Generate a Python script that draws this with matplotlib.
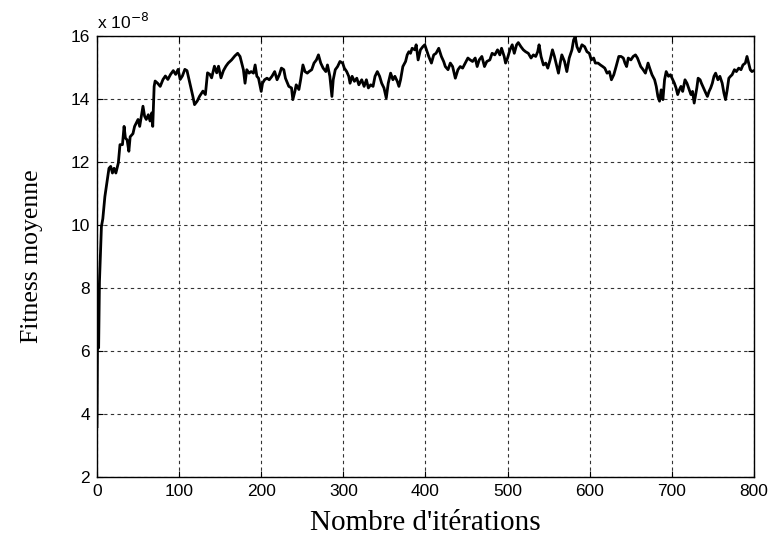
import numpy as np
import matplotlib.pyplot as plt
from matplotlib.ticker import FuncFormatter

# mean fitness per iteration (units of 1e-8)
iterations = [
    0, 1, 2, 3, 4.2, 5.4, 7.1, 9.6, 12.5, 14.6, 16.7, 18.8, 20.8, 23, 26, 28, 31, 33, 34.6, 36.7,
    38.8, 40.4, 43.8, 45.8, 47.9, 50, 52, 54, 56, 58, 60, 62.5, 64.6, 66.7, 67.9, 69.6, 70.8, 73.8, 77, 80.4,
    83.3, 86.3, 89.6, 92.9, 95.8, 98.8, 101.3, 104, 107, 109.6, 112.5, 116.7, 118.8, 122, 125, 129, 132, 134.6, 137.5, 139.6,
    143, 145.8, 148, 151, 154, 157, 159.8, 163.9, 168, 171.3, 174.2, 176.2, 178.3, 180.3, 182.4, 185.2, 187.7, 190.6, 192.6, 194.7,
    196.7, 200, 201.6, 204.1, 207, 209.8, 213.1, 216.4, 219.3, 222.1, 224.6, 227.5, 229.5, 233.6, 236.9, 238.5, 241, 242.6, 245.9, 248,
    250.8, 253.3, 256.1, 258.2, 261.5, 264.3, 267.2, 269.7, 272.5, 275.4, 278.7, 280.7, 283.6, 286.1, 287.7, 290.2, 293, 295.9, 299.2, 301.2,
    304.1, 306.6, 308.2, 310.7, 313.5, 316.4, 318.9, 322.4, 325.3, 328.1, 330.5, 333.3, 336.2, 338.6, 341.4, 344.2, 346.7, 349.5, 352.3, 354.7,
    357.6, 360.4, 362.8, 365.7, 367.7, 369.7, 372.5, 375.8, 377.8, 379.8, 381.8, 383.8, 387.1, 388.7, 391.1, 393.9, 396.8, 399.2, 402, 404,
    407.3, 410.1, 412.9, 416.2, 419.4, 422.2, 424.2, 427.5, 430.3, 433.1, 436.4, 439.6, 442.4, 445.3, 448.5, 451.7, 454.5, 457.4, 460.6, 463,
    465.5, 468.7, 471.9, 474.7, 478.4, 481.2, 484.5, 487.8, 490.6, 492.7, 495.9, 497.6, 500, 502.9, 505.7, 508.2, 511, 513.1, 516.3, 519.2,
    522, 525.3, 528.6, 531.4, 534.3, 536.7, 538.4, 540.8, 543.7, 546.5, 549, 551.8, 554.7, 557.1, 560, 562, 564.1, 566.1, 569.4, 572.2,
    575.1, 578.4, 580.4, 582.4, 584.5, 587.3, 590.6, 593.9, 596.7, 599.6, 602, 604.9, 606.9, 610.2, 613.1, 615.9, 618.4, 621.2, 624.1, 626.5,
    629.4, 632.2, 635.5, 638.2, 641, 643, 645, 647, 650.2, 653, 655.8, 658.2, 659.8, 662.2, 665.1, 667.9, 671.1, 673.1, 675.9, 679.1,
    681.1, 683.1, 685.1, 687.1, 689.2, 691.2, 693.2, 696, 698.4, 701.2, 703.2, 705.2, 707.2, 709.2, 711.2, 713.3, 716.1, 718.5, 721.3, 723.3,
    725.3, 727.3, 730.5, 732.1, 734.5, 736.1, 738.6, 741.4, 743.4, 745.4, 747.4, 749.4, 751.4, 753.4, 756.2, 758.6, 761.4, 763.5, 765.5, 767.5,
    769.5, 771.5, 773.5, 776.3, 778.7, 781.5, 784.3, 786.7, 789.6, 791.6, 793.6, 795.6, 797.6, 800,
]
fitness = [
    3.6, 8.1, 6.1, 8.2, 9.1, 9.95, 10.2, 10.9, 11.43, 11.8, 11.86, 11.65, 11.8, 11.65, 11.97, 12.55, 12.55, 13.13, 12.76, 12.7,
    12.34, 12.8, 12.9, 13.13, 13.24, 13.35, 13.13, 13.45, 13.77, 13.45, 13.35, 13.5, 13.3, 13.56, 13.13, 14.4, 14.57, 14.5, 14.4, 14.62,
    14.73, 14.62, 14.78, 14.9, 14.78, 14.94, 14.62, 14.73, 14.94, 14.9, 14.57, 14.09, 13.82, 13.93, 14.09, 14.25, 14.14, 14.83, 14.78, 14.67,
    15.04, 14.83, 15.04, 14.67, 14.9, 15.04, 15.14, 15.24, 15.37, 15.45, 15.35, 15.14, 14.93, 14.5, 14.93, 14.82, 14.87, 14.82, 15.08, 14.72,
    14.66, 14.24, 14.5, 14.61, 14.66, 14.61, 14.72, 14.87, 14.61, 14.77, 14.98, 14.93, 14.66, 14.4, 14.35, 13.98, 14.24, 14.45, 14.3, 14.61,
    15.08, 14.87, 14.82, 14.87, 14.93, 15.14, 15.24, 15.4, 15.14, 14.98, 14.87, 15.08, 14.72, 14.08, 14.61, 14.93, 15.03, 15.19, 15.14, 14.98,
    14.87, 14.72, 14.5, 14.72, 14.56, 14.66, 14.45, 14.61, 14.4, 14.61, 14.35, 14.45, 14.4, 14.72, 14.87, 14.72, 14.5, 14.35, 14.03, 14.5,
    14.82, 14.61, 14.72, 14.56, 14.4, 14.61, 15.03, 15.19, 15.4, 15.5, 15.45, 15.61, 15.56, 15.72, 15.24, 15.56, 15.66, 15.72, 15.5, 15.35,
    15.14, 15.4, 15.45, 15.61, 15.35, 15.19, 15.03, 14.93, 15.14, 15.03, 14.66, 14.93, 15.03, 14.98, 15.14, 15.3, 15.24, 15.19, 15.3, 15.03,
    15.24, 15.35, 15.03, 15.19, 15.24, 15.45, 15.4, 15.56, 15.4, 15.61, 15.35, 15.14, 15.3, 15.56, 15.72, 15.45, 15.72, 15.79, 15.66, 15.56,
    15.5, 15.45, 15.3, 15.4, 15.35, 15.5, 15.72, 15.35, 15.08, 15.14, 14.98, 15.24, 15.56, 15.35, 15.03, 14.82, 15.14, 15.4, 15.19, 14.87,
    15.3, 15.56, 15.87, 15.98, 15.66, 15.5, 15.72, 15.66, 15.5, 15.45, 15.24, 15.3, 15.14, 15.14, 15.08, 15.03, 14.98, 14.82, 14.87, 14.61,
    14.77, 15.03, 15.35, 15.35, 15.3, 15.14, 15.03, 15.3, 15.24, 15.35, 15.4, 15.3, 15.19, 15.03, 14.93, 14.82, 15.14, 14.98, 14.77, 14.61,
    14.4, 14.08, 13.93, 14.29, 13.98, 14.61, 14.87, 14.72, 14.77, 14.61, 14.5, 14.35, 14.14, 14.29, 14.4, 14.24, 14.61, 14.5, 14.29, 14.14,
    14.24, 13.87, 14.35, 14.66, 14.61, 14.5, 14.35, 14.19, 14.08, 14.24, 14.35, 14.5, 14.72, 14.82, 14.61, 14.72, 14.5, 14.19, 13.98, 14.29,
    14.66, 14.72, 14.77, 14.93, 14.87, 14.98, 14.93, 15.08, 15.14, 15.35, 15.14, 14.93, 14.87, 14.9,
]
scale = 1e-8

x = np.array(iterations)
y = np.array(fitness) * scale

fig = plt.figure(figsize=(7.71, 5.41), dpi=100)
ax = fig.add_axes([0.1258, 0.1183, 0.852, 0.8152])

ax.plot(x, y, color='k', linewidth=2.0)

ax.set_xlim(0, 800)
ax.set_ylim(2e-8, 16e-8)
ax.set_xticks(np.arange(0, 801, 100))
ax.set_yticks(np.arange(2, 17, 2) * scale)
ax.yaxis.set_major_formatter(FuncFormatter(lambda v, p: '%g' % round(v / scale, 6)))

ax.grid(True, color='#333333', linestyle=(0, (3, 3)), linewidth=0.8)
ax.tick_params(direction='in', length=4, width=0.8, labelsize=12.5, pad=5,
               top=True, right=True)
for lbl in ax.get_xticklabels() + ax.get_yticklabels():
    lbl.set_family('Liberation Sans')
for s in ax.spines.values():
    s.set_linewidth(1.0)

ax.text(0.0, 1.01, r'x 10$^{-8}$', transform=ax.transAxes, fontsize=12.5,
        family='Liberation Sans', ha='left', va='bottom')

ax.set_xlabel("Nombre d'itérations", family='Liberation Serif', fontsize=21, labelpad=8)
ax.set_ylabel('Fitness moyenne', family='Liberation Serif', fontsize=18.5, labelpad=20)

plt.savefig('out.png', dpi=100)
